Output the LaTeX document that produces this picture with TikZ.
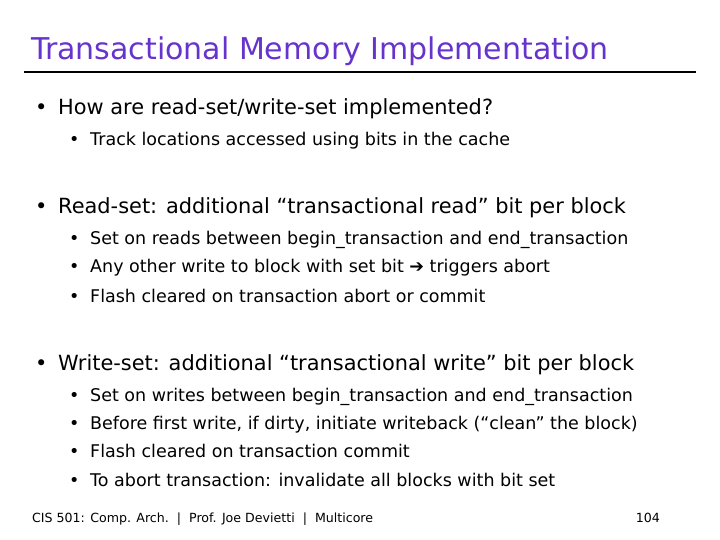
\documentclass[tikz,border=0pt]{standalone}
\usepackage{fontspec}
\setmainfont{DejaVu Sans}
\definecolor{titlec}{HTML}{6633CC}
\begin{document}
\begin{tikzpicture}[x=1pt,y=-1pt,
  tl/.style={anchor=base west,inner sep=0pt,font=\fontsize{30}{34}\selectfont,text=titlec},
  lone/.style={anchor=base west,inner sep=0pt,font=\fontsize{20.9}{24}\selectfont},
  ltwo/.style={anchor=base west,inner sep=0pt,font=\fontsize{17.5}{19}\selectfont},
  foot/.style={anchor=base west,inner sep=0pt,font=\fontsize{12.6}{14}\selectfont}]
\useasboundingbox (0,0) rectangle (720,540);
\node[tl] (title) at (31,60) {Transactional Memory Implementation};
\draw[line width=1.5pt] (24,72) -- (696,72);
\foreach \y/\t [count=\i] in {115/{How are read-set/write-set implemented?},214/{Read-set: additional “transactional read” bit per block},370/{Write-set: additional “transactional write” bit per block}}{
  \node[lone] (b\i) at (35,\y) {•};
  \node[lone] (t\i) at (58,\y) {\t};}
\foreach \y/\t [count=\i] in {146/{Track locations accessed using bits in the cache},
  244/{Set on reads between begin\_transaction and end\_transaction},
  272/{Any other write to block with set bit \textbf{➔} triggers abort},
  302/{Flash cleared on transaction abort or commit},
  401/{Set on writes between begin\_transaction and end\_transaction},
  429/{Before first write, if dirty, initiate writeback (“clean” the block)},
  457/{Flash cleared on transaction commit},
  486/{To abort transaction: invalidate all blocks with bit set}}{
  \node[ltwo] (c\i) at (69,\y) {•};
  \node[ltwo] (s\i) at (90,\y) {\t};}
\node[foot] (f1) at (32,522) {CIS 501: Comp. Arch.\ \ |\ \ Prof. Joe Devietti\ \ |\ \ Multicore};
\node[foot,anchor=base east] (f2) at (660,522) {104};
\end{tikzpicture}
\end{document}
